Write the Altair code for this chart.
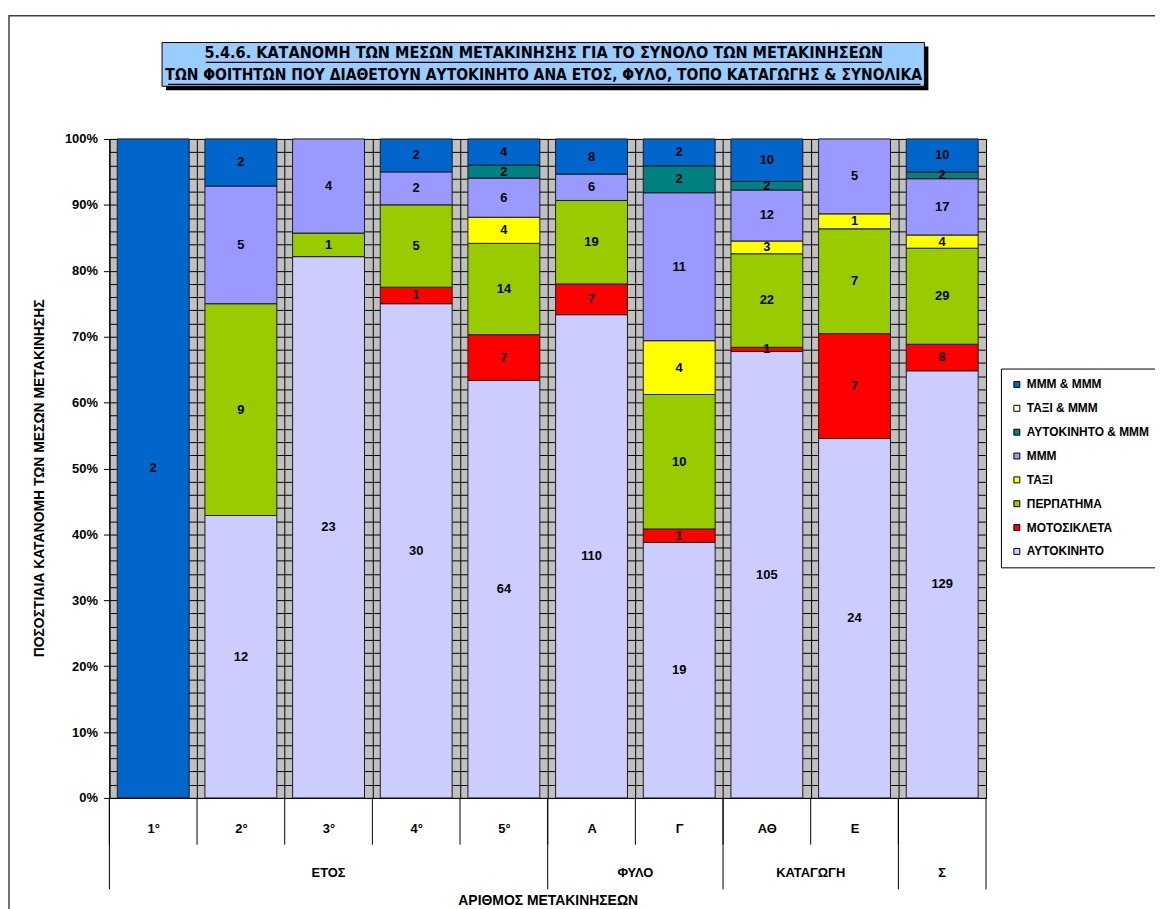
import altair as alt
import pandas as pd

# ---------------- data ----------------
categories = ["1°", "2°", "3°", "4°", "5°", "Α", "Γ", "ΑΘ", "Ε", "Σ"]
modes = ["ΑΥΤΟΚΙΝΗΤΟ", "ΜΟΤΟΣΙΚΛΕΤΑ", "ΠΕΡΠΑΤΗΜΑ", "ΤΑΞΙ", "ΜΜΜ",
         "ΑΥΤΟΚΙΝΗΤΟ & ΜΜΜ", "ΤΑΞΙ & ΜΜΜ", "ΜΜΜ & ΜΜΜ"]
colors = ["#CCCCFF", "#FF0000", "#99CC00", "#FFFF00", "#9999FF",
          "#008080", "#FFFFCC", "#0066CC"]

car = [0, 12, 23, 30, 64, 110, 19, 105, 24, 129]
moto = [0, 0, 0, 1, 7, 7, 1, 1, 7, 8]
walk = [0, 9, 1, 5, 14, 19, 10, 22, 7, 29]
taxi = [0, 0, 0, 0, 4, 0, 4, 3, 1, 4]
mmm = [0, 5, 4, 2, 6, 6, 11, 12, 5, 17]
car_mmm = [0, 0, 0, 0, 2, 0, 2, 2, 0, 2]
taxi_mmm = [0, 0, 0, 0, 0, 0, 0, 0, 0, 0]
mmm_mmm = [2, 2, 0, 2, 4, 8, 2, 10, 0, 10]
series = [car, moto, walk, taxi, mmm, car_mmm, taxi_mmm, mmm_mmm]

group_mid_labels = ["ΕΤΟΣ", "Σ"]
group_mid_cats = ["3°", "Σ"]
group_edge_labels = ["ΦΥΛΟ", "ΚΑΤΑΓΩΓΗ"]
group_edge_cats = ["Γ", "Ε"]
group_bound_cats = ["1°", "Α", "ΑΘ", "Σ"]

title1 = "5.4.6. ΚΑΤΑΝΟΜΗ  ΤΩΝ ΜΕΣΩΝ ΜΕΤΑΚΙΝΗΣΗΣ ΓΙΑ ΤΟ ΣΥΝΟΛΟ ΤΩΝ ΜΕΤΑΚΙΝΗΣΕΩΝ"
title2 = "ΤΩΝ ΦΟΙΤΗΤΩΝ ΠΟΥ ΔΙΑΘΕΤΟΥΝ ΑΥΤΟΚΙΝΗΤΟ ΑΝΑ ΕΤΟΣ, ΦΥΛΟ, ΤΟΠΟ ΚΑΤΑΓΩΓΗΣ & ΣΥΝΟΛΙΚΑ"
y_title = "ΠΟΣΟΣΤΙΑΙΑ ΚΑΤΑΝΟΜΗ ΤΩΝ ΜΕΣΩΝ ΜΕΤΑΚΙΝΗΣΗΣ"
x_title = "ΑΡΙΘΜΟΣ ΜΕΤΑΚΙΝΗΣΕΩΝ"

rows = []
for i, (m, vals) in enumerate(zip(modes, series)):
    for c, v in zip(categories, vals):
        if v > 0:
            rows.append({"cat": c, "mode": m, "idx": i, "value": v})
df = pd.DataFrame(rows)

W, H = 882, 663
FONT = "Liberation Sans"
NARROW = "Liberation Sans Narrow, DejaVu Sans Condensed, Liberation Sans"
FS = 13

xscale = alt.Scale(domain=categories, paddingInner=0, paddingOuter=0)
yscale = alt.Scale(domain=[0, 1])

base = alt.Chart(df).transform_stack(
    stack="value", groupby=["cat"], as_=["y0", "y1"],
    sort=[alt.SortField("idx", order="ascending")], offset="normalize"
).transform_calculate(mid="(datum.y0 + datum.y1) / 2")

# fine horizontal grid (background pattern)
grid_layer = base.mark_rule(opacity=0).encode(
    y=alt.Y("y1:Q", scale=yscale,
            axis=alt.Axis(orient="right", values=[i / 50 for i in range(51)],
                          grid=True, gridColor="#000000", gridWidth=1,
                          labels=False, ticks=False, domain=False, title=None))
)

bars = base.mark_bar(width=alt.RelativeBandSize(0.82), stroke="#1a1a1a",
                     strokeWidth=1).encode(
    x=alt.X("cat:N", scale=xscale, sort=categories,
            axis=alt.Axis(title=x_title, labelExpr="datum.value == 'Σ' ? '' : datum.value",
                          labelAngle=0, ticks=False, grid=True, gridColor="#000000",
                          tickBand="extent", labelPadding=31, labelBaseline="middle",
                          labelFontSize=FS, labelFontWeight="bold", labelFont=FONT,
                          domainColor="#000000", titleY=103, titleBaseline="middle",
                          titleFont=FONT, titleFontSize=14, titleFontWeight="bold")),
    y=alt.Y("y0:Q", scale=yscale,
            axis=alt.Axis(title=y_title, values=[i / 10 for i in range(11)], format="%",
                          grid=False, tickSize=6, labelPadding=6, tickColor="#000000",
                          domainColor="#000000", labelFont=FONT, labelFontSize=FS,
                          labelFontWeight="bold", titleFont=FONT, titleFontSize=14,
                          titleFontWeight="bold", titleX=-70, titleY=341,
                          titleBaseline="middle")),
    y2="y1:Q",
    color=alt.Color("mode:N", scale=alt.Scale(domain=modes[::-1], range=colors[::-1]),
                    legend=alt.Legend(title=None)),
    order=alt.Order("idx:Q"),
)

labels = base.mark_text(font=FONT, fontSize=FS, fontWeight="bold", color="#000000",
                        baseline="middle").encode(
    x=alt.X("cat:N", scale=xscale, sort=categories, bandPosition=0.5),
    y=alt.Y("mid:Q", scale=yscale, axis=None),
    text="value:Q",
)

cat_df = pd.DataFrame({"cat": categories})
short_rules = alt.Chart(cat_df).mark_rule(color="#000000", strokeWidth=1).encode(
    x=alt.X("cat:N", scale=xscale, sort=categories, bandPosition=0),
    y=alt.value(H), y2=alt.value(H + 47),
)
bound_df = pd.DataFrame({"cat": group_bound_cats})
long_rules = alt.Chart(bound_df).mark_rule(color="#000000", strokeWidth=1).encode(
    x=alt.X("cat:N", scale=xscale, sort=categories, bandPosition=0),
    y=alt.value(H), y2=alt.value(H + 92),
)
end_rule = alt.Chart(pd.DataFrame({"cat": [categories[-1]]})).mark_rule(
    color="#000000", strokeWidth=1).encode(
    x=alt.X("cat:N", scale=xscale, sort=categories, bandPosition=1),
    y=alt.value(H), y2=alt.value(H + 92),
)
gmid = alt.Chart(pd.DataFrame({"cat": group_mid_cats, "label": group_mid_labels})).mark_text(
    font=FONT, fontSize=FS, fontWeight="bold", color="#000000", baseline="middle").encode(
    x=alt.X("cat:N", scale=xscale, sort=categories, bandPosition=0.5),
    y=alt.value(H + 76), text="label:N",
)
gedge = alt.Chart(pd.DataFrame({"cat": group_edge_cats, "label": group_edge_labels})).mark_text(
    font=FONT, fontSize=FS, fontWeight="bold", color="#000000", baseline="middle").encode(
    x=alt.X("cat:N", scale=xscale, sort=categories, bandPosition=0),
    y=alt.value(H + 76), text="label:N",
)

one = pd.DataFrame({"t1": [title1], "t2": [title2]})
frame = alt.Chart(one).mark_rect(fillOpacity=0, stroke="#404040", strokeWidth=1.5).encode(
    x=alt.value(-101), x2=alt.value(1200), y=alt.value(-124), y2=alt.value(1200))
shadow = alt.Chart(one).mark_rect(color="#000000").encode(
    x=alt.value(57), x2=alt.value(824), y=alt.value(-93), y2=alt.value(-49))
tbox = alt.Chart(one).mark_rect(fill="#99CCFF", stroke="#000000", strokeWidth=1).encode(
    x=alt.value(53), x2=alt.value(820), y=alt.value(-97), y2=alt.value(-53))
t1 = alt.Chart(one).mark_text(font=NARROW, fontSize=16.2, fontWeight="bold",
                              color="#000000", baseline="middle").encode(
    x=alt.value(437), y=alt.value(-86), text="t1:N")
t2 = alt.Chart(one).mark_text(font=NARROW, fontSize=15.6, fontWeight="bold",
                              color="#000000", baseline="middle").encode(
    x=alt.value(437), y=alt.value(-64), text="t2:N")
u1 = alt.Chart(one).mark_rule(color="#000000", strokeWidth=1.2).encode(
    x=alt.value(97), x2=alt.value(777), y=alt.value(-77))
u2 = alt.Chart(one).mark_rule(color="#000000", strokeWidth=1.2).encode(
    x=alt.value(59), x2=alt.value(816), y=alt.value(-55))

chart = alt.layer(
    grid_layer, bars, labels, short_rules, long_rules, end_rule, gmid, gedge,
    frame, shadow, tbox, t1, t2, u1, u2
).resolve_axis(y="independent").properties(
    width=W, height=H,
    autosize=alt.AutoSizeParams(type="none"),
    padding={"left": 102, "top": 129, "right": 170, "bottom": 110},
).configure_view(fill="#C0C0C0", stroke="#808080").configure_legend(
    orient="none", legendX=897, legendY=231, strokeColor="#000000", strokeWidth=1,
    padding=10, symbolType="square", symbolSize=36, symbolStrokeColor="#000000",
    symbolStrokeWidth=1, labelFont=FONT, labelFontSize=12, labelFontWeight="bold",
    labelColor="#000000", rowPadding=12, labelLimit=300, fillColor="#FFFFFF",
)

chart.save("out.html", embed_options={"renderer": "svg", "actions": False})
